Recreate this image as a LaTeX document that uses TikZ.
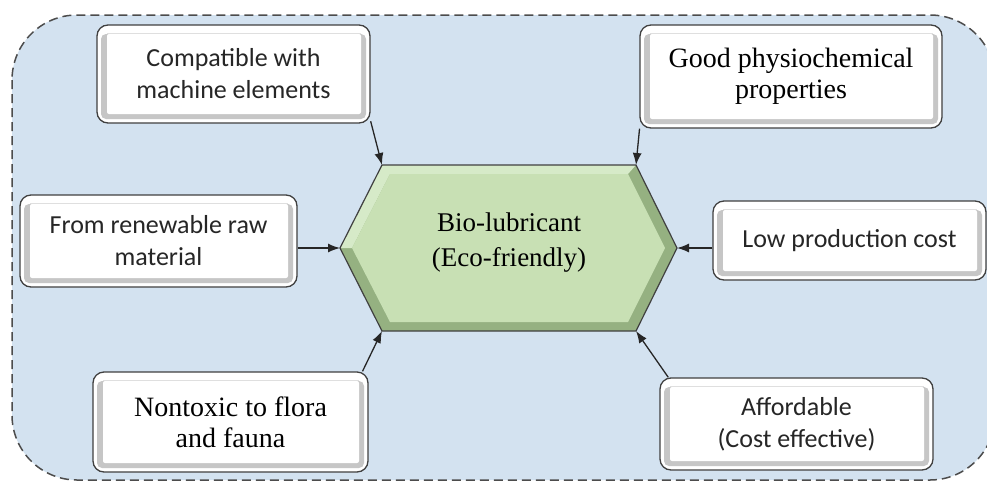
\documentclass[tikz,border=0pt]{standalone}
\usepackage{fontspec}
\usepackage{tikz}
\usetikzlibrary{arrows.meta, calc}
\newfontfamily\boxsans{Carlito}
\newfontfamily\boxserif{Liberation Serif}
\definecolor{bgblue}{HTML}{D3E2F0}
\definecolor{hexdark}{HTML}{95B181}
\definecolor{hexlight}{HTML}{D6EAC8}
\definecolor{hexfill}{HTML}{C8E0B4}
\definecolor{txtgray}{HTML}{262626}

\begin{document}
\begin{tikzpicture}[
    x=1pt, y=-1pt,
    box/.style={rectangle, draw=black!75, line width=1.3pt, fill=white, rounded corners=11pt, align=center, inner sep=0pt,
        path picture={
            \fill[gray!45, rounded corners=5pt] ([shift={(4pt,4pt)}]path picture bounding box.south west) rectangle ([shift={(-4pt,-9pt)}]path picture bounding box.north east);
            \draw[gray!25, line width=1pt] ([shift={(10pt,-8pt)}]path picture bounding box.north west) -- ([shift={(-9pt,-8pt)}]path picture bounding box.north east);
            \fill[white, rounded corners=2pt] ([shift={(10pt,9pt)}]path picture bounding box.south west) rectangle ([shift={(-9pt,-9pt)}]path picture bounding box.north east);
    }},
    sanstxt/.style={font=\boxsans\fontsize{26}{32}\selectfont, text=txtgray},
    seriftxt/.style={font=\boxserif\fontsize{28}{31}\selectfont, text=black},
    arr/.style={-{Latex[length=12pt,width=9pt]}, line width=1.3pt, black!85}
]
\useasboundingbox (0,0) rectangle (987,480);
\clip (0,0) rectangle (987,480);

% -- BACKGROUND --
\draw[fill=bgblue, draw=black!70, line width=1.5pt, dash pattern=on 9pt off 5pt, rounded corners=65pt] (12,15) rectangle (995,480);

% -- CENTRE: hexagon --
\coordinate (hl) at (340,248);
\coordinate (htl) at (382,165);
\coordinate (htr) at (636,165);
\coordinate (hr) at (677,248);
\coordinate (hbr) at (636,331);
\coordinate (hbl) at (382,331);
\fill[hexdark] (hl) -- (htl) -- (htr) -- (hr) -- (hbr) -- (hbl) -- cycle;
\fill[hexlight] (hl) -- (htl) -- (htr) -- (628,174) -- (390,174) -- (352,248) -- cycle;
\fill[hexfill] (352,248) -- (390,174) -- (628,174) -- (665,248) -- (628,322) -- (390,322) -- cycle;
\draw[black!75, line width=1.2pt] (hl) -- (htl) -- (htr) -- (hr) -- (hbr) -- (hbl) -- cycle;
\node[font=\boxserif\fontsize{27}{35}\selectfont, align=center] (bio) at (509,243) {Bio-lubricant\\(Eco-friendly)};

% -- TOP ROW --
\node[box, sanstxt, minimum width=273pt, minimum height=98pt] (compat) at (233.5,74) {Compatible with\\machine elements};
\node[box, seriftxt, minimum width=302pt, minimum height=103pt] (physio) at (791,76.5) {Good physiochemical\\properties};

% -- MIDDLE ROW --
\node[box, sanstxt, minimum width=277pt, minimum height=92pt] (renew) at (158.5,241) {From renewable raw\\material};
\node[box, sanstxt, minimum width=273pt, minimum height=79pt] (lowcost) at (849.5,240.5) {Low production cost};

% -- BOTTOM ROW --
\node[box, seriftxt, minimum width=275pt, minimum height=100pt] (nontox) at (230.5,422) {Nontoxic to flora\\and fauna};
\node[box, sanstxt, minimum width=273pt, minimum height=92pt] (afford) at (796.5,424) {Affordable\\(Cost effective)};

% -- ARROWS --
\draw[arr] (compat.-19) -- (htl);
\draw[arr] (physio.-161) -- (htr);
\draw[arr] (renew.east |- hl) -- (hl);
\draw[arr] (lowcost.west |- hr) -- (hr);
\draw[arr] (nontox.21) -- (hbl);
\draw[arr] (afford.160) -- (hbr);

\end{tikzpicture}
\end{document}
